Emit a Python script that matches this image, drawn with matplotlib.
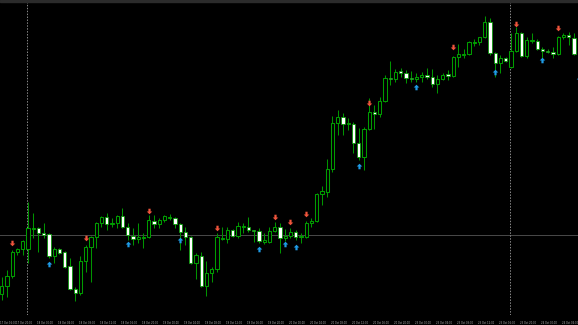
#Importando as bibliotecas:
import matplotlib
matplotlib.use('Agg')
import matplotlib.pyplot as plt
import numpy as np
from matplotlib.path import Path
from matplotlib.patches import Rectangle

#Dados OHLC (em pontos, valores relativos):
opens = [31, 39, 49, 73, 76, 76, 96.5, 97, 92, 91,
         69, 76, 73, 59, 36, 32, 64, 78, 88, 102,
         108, 101, 102, 109, 98, 89, 86, 87.5, 88, 104,
         101, 105, 107.5, 107, 101, 93, 88, 62, 69, 39,
         52, 56, 86.5, 86, 95, 89, 98.5, 98, 95, 94,
         83, 83, 94, 98, 87, 89, 93, 88, 88, 102,
         104, 131, 133, 156, 202, 208, 201.5, 201, 182, 168,
         196, 213, 211, 224, 247, 246, 254, 252, 247, 246,
         248, 250, 248, 241, 246, 251, 249, 268, 270.5, 271,
         282.5, 283, 288, 303, 272, 262, 267, 258, 274, 292,
         269, 284.5, 284, 276, 274, 273, 271, 288, 290, 287,
         255]
highs = [48, 55, 75, 77, 85, 123, 112, 98, 102, 92,
         78, 77, 74, 67, 38, 69, 80, 89, 103, 109,
         112, 107, 110, 117, 102, 97, 102, 92, 110, 110,
         107, 110, 111, 108, 102, 98, 89, 72, 73, 64,
         58, 92, 98, 98, 96, 103, 102, 108, 95.5, 97,
         92, 98, 103, 102, 96, 97, 95, 92, 104, 107,
         132, 139, 166, 209, 215, 212, 207, 203, 197, 198,
         227, 220, 228, 250, 264, 256, 257, 255, 254, 252,
         253, 257, 256, 250, 252, 255, 269, 281, 276, 284,
         286, 288.5, 309, 307, 273, 270, 268, 292, 298, 293,
         288, 292, 286, 278, 276, 278, 289, 292, 293, 292,
         272]
lows = [25, 28, 47, 70, 70, 62, 87, 73, 87, 67,
        62, 71, 57, 35, 24, 30, 53, 43, 77, 98,
        95, 98, 97, 97, 85, 80, 82, 77, 87, 97,
        97, 103, 105, 97, 75, 80, 61, 46, 38, 29,
        43, 53, 85, 82, 88, 87, 92, 93, 83, 82,
        81, 82, 93, 72, 84, 87, 85, 82, 87, 98,
        103, 120, 128, 153, 190, 190, 195, 172, 165, 155,
        195, 196, 208, 223, 240, 243, 248, 242, 243, 243,
        243, 246, 238, 232, 245, 245, 248, 258, 267, 270,
        279, 280, 287, 270, 248, 252, 263, 257, 273, 268,
        267, 282, 275, 263, 272, 267, 270, 286, 280, 270,
        253]
closes = [39, 49, 73, 76, 84, 97, 97, 92, 90, 69,
          76, 72, 58, 36, 32, 64, 78, 88, 102, 108,
          101, 102, 109, 98, 90, 86, 88, 88, 105, 101,
          105, 109, 108, 101, 93, 88, 62, 70, 39, 52,
          56, 88, 87, 95, 89, 99, 99, 95, 94.5, 84,
          85, 94, 98, 87, 89, 93, 88, 89, 102, 104,
          131, 134, 156, 202, 208, 201, 202, 182, 168, 196,
          213, 211, 224, 247, 246, 253, 252, 247, 246, 248,
          250, 248, 241, 246, 250, 249, 268, 271, 271, 283,
          283, 288, 303, 272, 262, 267, 264, 274, 292, 269,
          285, 285, 276, 274, 273, 271, 288, 290, 288, 271,
          270]

#Fractais (indice da vela, preco da seta):
fractal_up_idx = [2, 16, 28, 41, 52, 55, 58, 70, 86, 98, 106]
fractal_up_price = [82, 87, 114, 97, 108, 103, 111, 222, 278, 301, 297]
fractal_dn_idx = [9, 24, 34, 49, 54, 56, 68, 79, 94, 103, 110]
fractal_dn_price = [61, 81, 85, 76, 81, 78, 159, 238, 253, 265, 246]

#Rotulos do eixo do tempo:
time_labels = ['17 Oct 16:00', '17 Oct 20:00', '18 Oct 00:00', '18 Oct 04:00',
               '18 Oct 08:00', '18 Oct 12:00', '18 Oct 16:00', '18 Oct 20:00',
               '19 Oct 00:00', '19 Oct 04:00', '19 Oct 08:00', '19 Oct 12:00',
               '19 Oct 16:00', '19 Oct 20:00', '20 Oct 00:00', '20 Oct 04:00',
               '20 Oct 08:00', '20 Oct 12:00', '20 Oct 16:00', '20 Oct 20:00',
               '23 Oct 00:00', '23 Oct 04:00', '23 Oct 08:00', '23 Oct 12:00',
               '23 Oct 16:00', '23 Oct 20:00', '24 Oct 00:00', '24 Oct 04:00']
label_idx = [-0.27, 2.7, 6.7, 10.7, 14.7, 18.7, 22.7, 26.7, 30.7, 34.7, 38.7, 42.7, 46.7, 50.7,
             54.7, 58.7, 62.7, 66.7, 70.7, 74.7, 78.7, 82.7, 86.7, 90.7, 94.7, 98.7, 102.7, 106.7]

#Linhas da grade:
grid_x = [4.88, 96.9]
grid_y = 90

o = np.array(opens, dtype=float)
h = np.array(highs, dtype=float)
l = np.array(lows, dtype=float)
c = np.array(closes, dtype=float)
x = np.arange(len(o))
bull = c >= o

#Gerando a figura:
fig = plt.figure(figsize=(5.78, 3.25), dpi=100)
fig.patch.set_facecolor('black')
ax = fig.add_axes([0, 10 / 325, 1, 315 / 325])
ax.set_facecolor('black')
for s in ax.spines.values():
    s.set_visible(False)
ax.set_xticks([])
ax.set_yticks([])
ax.set_xlim(-0.324, 109.77)
ax.set_ylim(10, 325)

#Grade:
ax.axhline(grid_y, color='#4a4a4a', lw=0.7, zorder=1)
for gx in grid_x:
    ax.axvline(gx, color='#8a8a8a', lw=0.7, ls=(0, (1.5, 1.5)), zorder=1)

#Pavios e corpos das velas:
ax.vlines(x, l, h, color='#009400', lw=0.75, zorder=2)
body_bot = np.minimum(o, c)
body_h = np.maximum(np.abs(c - o), 0.4)
ax.bar(x[bull], body_h[bull], bottom=body_bot[bull], width=0.62,
       facecolor='black', edgecolor='#009c00', lw=0.75, zorder=3)
ax.bar(x[~bull], body_h[~bull], bottom=body_bot[~bull], width=0.62,
       facecolor='white', edgecolor='#009c00', lw=0.55, zorder=3)

#Setas dos fractais:
up_arrow = Path([(0, 1), (1, 0), (0.4, 0), (0.4, -1), (-0.4, -1), (-0.4, 0), (-1, 0), (0, 1)],
                [Path.MOVETO] + [Path.LINETO] * 6 + [Path.CLOSEPOLY])
down_arrow = Path([(0, -1), (1, 0), (0.4, 0), (0.4, 1), (-0.4, 1), (-0.4, 0), (-1, 0), (0, -1)],
                  [Path.MOVETO] + [Path.LINETO] * 6 + [Path.CLOSEPOLY])
ax.plot(fractal_up_idx, fractal_up_price, ls='none', marker=down_arrow,
        markersize=4, color='#f0553c', mec='none', zorder=4)
ax.plot(fractal_dn_idx, fractal_dn_price, ls='none', marker=up_arrow,
        markersize=4, color='#1e9be6', mec='none', zorder=4)

#Faixa cinza no topo:
fig.add_artist(Rectangle((0, 1 - 2 / 325), 1, 2 / 325, transform=fig.transFigure,
                         color='#2b2b2b', zorder=5))

#Rotulos de tempo:
for xi, txt in zip(label_idx, time_labels):
    ax.text(xi, -0.018, txt, transform=ax.get_xaxis_transform(),
            fontsize=1.8, color='#b4b4b4', ha='left', va='top', clip_on=False)

plt.savefig('out.png', dpi=100, facecolor='black')
plt.close()
